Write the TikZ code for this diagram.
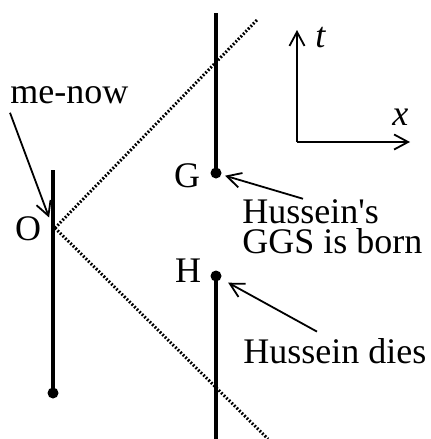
\documentclass[tikz,border=0pt]{standalone}
\usepackage{fontspec}
\setmainfont{Liberation Serif}[Ligatures=TeXOff]
\usetikzlibrary{arrows.meta}

\tikzset{
  worldline/.style={line width=2pt},
  event/.style={circle, fill=black, inner sep=0pt, minimum size=5.5pt},
  lightray/.style={line width=1.5pt, dash pattern=on 0.9pt off 0.9pt},
  pointer/.style={line width=0.9pt, -{Straight Barb[length=7pt,width=7.5pt]}},
  lbl/.style={inner sep=0pt, font=\fontsize{18pt}{15pt}\selectfont},
}

\begin{document}
\begin{tikzpicture}[x=0.5pt, y=-0.5pt]
\useasboundingbox (0,0) rectangle (430,439);

% Weltlinie: me-now
\coordinate (metop) at (53,170);
\coordinate (O) at (53,228);
\node[event] (mebot) at (53,393) {};
\draw[worldline] (metop) -- (mebot.center);
\node[lbl, anchor=base] (Olbl) at (28,240) {O};
\node[lbl, anchor=base west] (menow) at (10,103) {me-now};
\draw[pointer, shorten >=5.6pt] ([yshift=-4.5pt]menow.south west) -- (O);

% Lichtkegel
\coordinate (O') at (55,228);
\coordinate (raytop) at (257,20);
\coordinate (raybot) at (268,439);
\draw[lightray] (O') -- (raytop);
\draw[lightray] (O') -- (raybot);

% Ereignis G
\coordinate (Gtop) at (216,13);
\node[event] (G) at (216,173) {};
\draw[worldline] (Gtop) -- (G.center);
\node[lbl, anchor=base] (Glbl) at (187,187) {G};
\node[lbl, anchor=base west] (born) at (242,223) {Hussein's};
\node[lbl, anchor=base west] (born2) at (242,253) {GGS is born};
\draw[pointer, shorten >=1.8pt] ([xshift=30.5pt]born.north west) -- (G);

% Ereignis H
\node[event] (H) at (216,276) {};
\coordinate (Hbot) at (216,439);
\draw[worldline] (H.center) -- (Hbot);
\node[lbl, anchor=base] (Hlbl) at (188,282) {H};
\node[lbl, anchor=base west] (dies) at (243,363) {Hussein dies};
\draw[pointer, shorten >=4pt] ([shift={(37pt,3pt)}]dies.north west) -- (H);

% Achsen
\coordinate (ax0) at (297,142);
\coordinate (axt) at (297,30);
\coordinate (axx) at (410,142);
\draw[pointer] (ax0) -- (axt);
\draw[pointer] (ax0) -- (axx);
\node[lbl, anchor=base west] (tlbl) at (315,47) {\itshape t};
\node[lbl, anchor=base west] (xlbl) at (392,125) {\itshape x};
\end{tikzpicture}
\end{document}
